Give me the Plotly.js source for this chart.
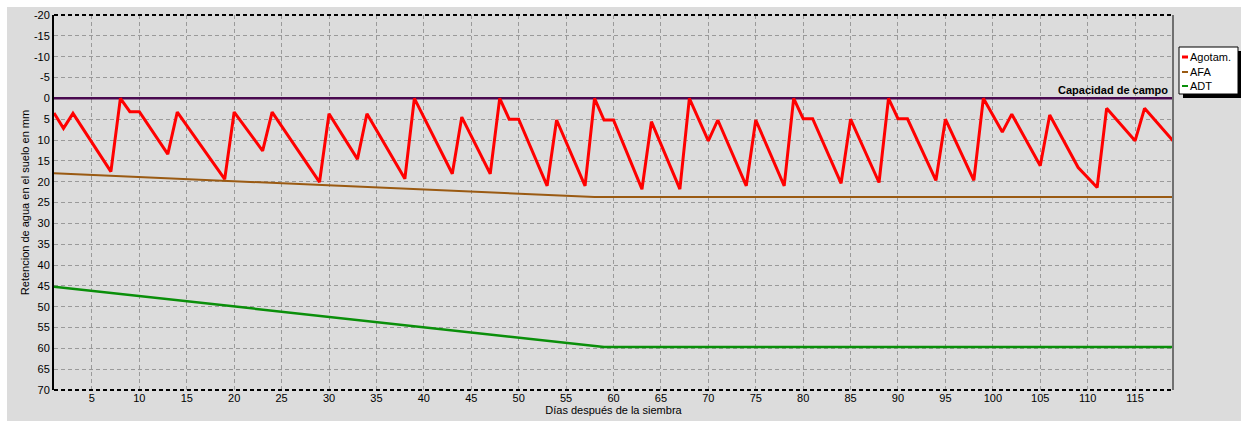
<!DOCTYPE html>
<html>
<head>
<meta charset="utf-8">
<script src="https://cdn.plot.ly/plotly-3.0.1.min.js"></script>
<style>
  html, body { margin: 0; padding: 0; background: #ffffff; width: 1241px; height: 422px; overflow: hidden; }
  #chart { position: absolute; left: 7px; top: 7px; width: 1234px; height: 414px; }
</style>
</head>
<body>
<div id="chart"></div>
<script>
// ---- Data ----
const agotamDays = [1, 2, 3, 7, 8, 9, 10, 13, 14, 19, 20, 23, 24, 29, 30, 33, 34, 38, 39, 43, 44, 47, 48, 49, 50, 53, 54, 57, 58, 59, 60, 63, 64, 67, 68, 70, 71, 74, 75, 78, 79, 80, 81, 84, 85, 88, 89, 90, 91, 94, 95, 98, 99, 101, 102, 105, 106, 109, 111, 112, 115, 116, 119];
const agotamVals = [3.5, 7.2, 3.6, 17.6, 0, 3.2, 3.2, 13.4, 3.3, 19.4, 3.3, 12.6, 3.3, 20.1, 3.7, 14.6, 3.7, 19.3, 0, 18.1, 4.5, 18.1, 0, 5.0, 5.0, 21.0, 5.2, 21.0, 0, 5.2, 5.2, 21.8, 5.6, 21.8, 0, 10.2, 5.2, 21.0, 5.2, 21.0, 0, 4.9, 4.9, 20.4, 5.0, 20.2, 0, 4.9, 4.9, 19.7, 5.0, 19.7, 0, 8.1, 3.8, 16.2, 4.0, 16.6, 21.4, 2.4, 10.2, 2.4, 10.2];

const afaDays = [1, 20, 40, 58, 119];
const afaVals = [18.0, 19.9, 21.9, 23.7, 23.7];

const adtDays = [1, 20, 40, 59, 119];
const adtVals = [45.2, 49.9, 54.9, 59.7, 59.7];

const ccDays = [1, 119];
const ccVals = [0, 0];
const ccLabel = 'Capacidad de campo';

const xTickVals = [5, 10, 15, 20, 25, 30, 35, 40, 45, 50, 55, 60, 65, 70, 75, 80, 85, 90, 95, 100, 105, 110, 115];
const yTickVals = [-20, -15, -10, -5, 0, 5, 10, 15, 20, 25, 30, 35, 40, 45, 50, 55, 60, 65, 70];
const yTickLabels = ['-20', '-15', '-10', '-5', '0', '5', '10', '15', '20', '25', '30', '35', '40', '45', '50', '55', '60', '65', '70'];

const legendNames = ['Agotam.', 'AFA', 'ADT'];
const xTitle = 'Días después de la siembra';
const yTitle = 'Retencion de agua en el suelo en mm';

// ---- Styling ----
const FONT = 'Liberation Sans, Arial, sans-serif';
const colors = { agotam: '#ff0000', afa: '#9a5a12', adt: '#0a8f0a', cc: '#4a0a50' };

const W = 1234, H = 414;
const M = { l: 47, r: 68, t: 8, b: 31 };
const plotW = W - M.l - M.r, plotH = H - M.t - M.b;
// page pixel -> paper coordinates (div is offset by 7px)
const px = (x) => (x - 7 - M.l) / plotW;
const py = (y) => 1 - (y - 7 - M.t) / plotH;

const traces = [
  { x: adtDays, y: adtVals, mode: 'lines', name: legendNames[2], line: { color: colors.adt, width: 2.5 }, showlegend: false, hoverinfo: 'x+y' },
  { x: afaDays, y: afaVals, mode: 'lines', name: legendNames[1], line: { color: colors.afa, width: 2 }, showlegend: false },
  { x: ccDays, y: ccVals, mode: 'lines', name: ccLabel, line: { color: colors.cc, width: 2.5 }, showlegend: false },
  { x: agotamDays, y: agotamVals, mode: 'lines', name: legendNames[0], line: { color: colors.agotam, width: 3 }, showlegend: false }
];

// custom legend (box with drop shadow)
const legBox = { x0: 1179, x1: 1238, y0: 47, y1: 94 };
const legRows = [57, 72, 86];
const legColors = [colors.agotam, colors.afa, colors.adt];
const legWidths = [3, 2, 2];

const shapes = [
  // top and bottom dashed frame lines
  { type: 'line', xref: 'paper', yref: 'paper', x0: 0, x1: 1, y0: 1, y1: 1, line: { color: '#000', width: 2, dash: '4px,3px' } },
  { type: 'line', xref: 'paper', yref: 'paper', x0: 0, x1: 1, y0: 0, y1: 0, line: { color: '#000', width: 2, dash: '4px,3px' } },
  // right frame line
  { type: 'line', xref: 'paper', yref: 'paper', x0: 1, x1: 1, y0: 0, y1: 1, line: { color: '#707070', width: 2 } },
  // legend shadow
  { type: 'rect', xref: 'paper', yref: 'paper', x0: px(legBox.x0 + 4), x1: px(legBox.x1 + 4), y0: py(legBox.y0 + 4), y1: py(legBox.y1 + 4), fillcolor: '#000', line: { width: 0 } },
  // legend box
  { type: 'rect', xref: 'paper', yref: 'paper', x0: px(legBox.x0), x1: px(legBox.x1), y0: py(legBox.y0), y1: py(legBox.y1), fillcolor: '#fff', line: { color: '#000', width: 1 } }
];
const annotations = [
  { xref: 'x', yref: 'y', x: 119, y: 0, xanchor: 'right', yanchor: 'bottom', xshift: -3, yshift: 0, showarrow: false,
    text: '<b>' + ccLabel + '</b>', font: { family: FONT, size: 11, color: '#000' } }
];
legendNames.forEach((n, i) => {
  shapes.push({ type: 'line', xref: 'paper', yref: 'paper', x0: px(1182), x1: px(1188), y0: py(legRows[i]), y1: py(legRows[i]), line: { color: legColors[i], width: legWidths[i] } });
  annotations.push({ xref: 'paper', yref: 'paper', x: px(1188.5), y: py(legRows[i]), xanchor: 'left', yanchor: 'middle', showarrow: false,
    text: n, font: { family: FONT, size: 11, color: '#000' }, borderpad: 0 });
});

const layout = {
  width: W, height: H,
  margin: M,
  paper_bgcolor: '#dcdcdc',
  plot_bgcolor: '#dcdcdc',
  font: { family: FONT, size: 11, color: '#000' },
  showlegend: false,
  xaxis: {
    range: [1, 119],
    tickvals: xTickVals,
    showgrid: true, gridcolor: '#9a9a9a', gridwidth: 1, griddash: '4px,3px',
    zeroline: false, showline: false, ticks: '',
    tickfont: { family: FONT, size: 11, color: '#000' },
    title: { text: xTitle, font: { family: FONT, size: 11, color: '#000' }, standoff: 2 },
    automargin: false
  },
  yaxis: {
    range: [70, -20],
    tickvals: yTickVals, ticktext: yTickLabels,
    showgrid: true, gridcolor: '#9a9a9a', gridwidth: 1, griddash: '4px,3px',
    zeroline: false, showline: true, linecolor: '#000', linewidth: 2, ticks: '',
    tickfont: { family: FONT, size: 11, color: '#000' },
    title: { text: yTitle, font: { family: FONT, size: 11, color: '#000' }, standoff: 2 },
    automargin: false
  },
  shapes: shapes,
  annotations: annotations
};

Plotly.newPlot('chart', traces, layout, { displayModeBar: false, staticPlot: true });
</script>
</body>
</html>
